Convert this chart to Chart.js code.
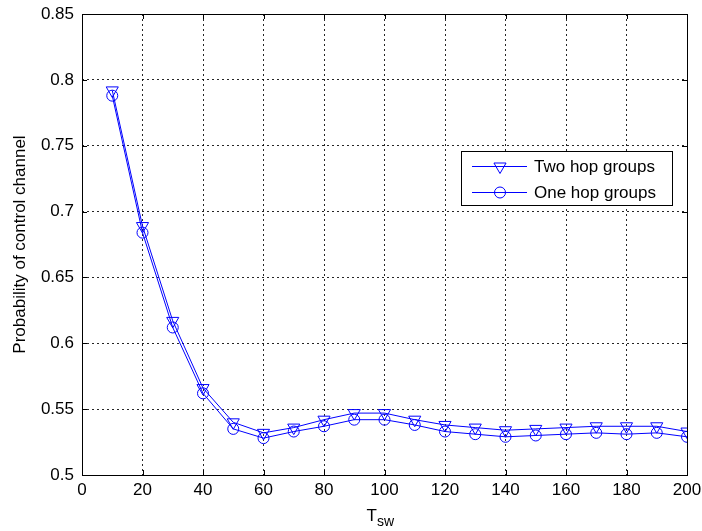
<!DOCTYPE html>
<html>
<head>
<meta charset="utf-8">
<script src="https://cdn.jsdelivr.net/npm/chart.js@4.4.1/dist/chart.umd.min.js"></script>
<style>
  html, body { margin: 0; padding: 0; background: #fff; }
  #wrap { width: 702px; height: 531px; }
</style>
</head>
<body>
<div id="wrap"><canvas id="chartCanvas" width="702" height="531"></canvas></div>
<script>
// data
const tswValues = [10, 20, 30, 40, 50, 60, 70, 80, 90, 100, 110, 120, 130, 140, 150, 160, 170, 180, 190, 200];
const twoHopGroups = [0.792, 0.689, 0.617, 0.566, 0.540, 0.532, 0.536, 0.542, 0.547, 0.547, 0.542, 0.538, 0.536, 0.534, 0.535, 0.536, 0.537, 0.537, 0.537, 0.533];
const oneHopGroups = [0.788, 0.684, 0.612, 0.562, 0.535, 0.528, 0.533, 0.537, 0.542, 0.542, 0.538, 0.533, 0.531, 0.529, 0.530, 0.531, 0.532, 0.531, 0.532, 0.529];
const xTicks = [0, 20, 40, 60, 80, 100, 120, 140, 160, 180, 200];
const yTicks = [0.5, 0.55, 0.6, 0.65, 0.7, 0.75, 0.8, 0.85];
const seriesNames = ['Two hop groups', 'One hop groups'];

const FONT = 'Liberation Sans, Arial, sans-serif';
const BLUE = 'rgb(0,0,255)';

function toPoints(ys) {
    return tswValues.map((x, i) => ({ x: x, y: ys[i] }));
}

function drawMarker(ctx, style, x, y) {
    ctx.beginPath();
    if (style === 'triangle') {
        const r = 7;
        ctx.moveTo(x - r * 0.866, y - r * 0.5);
        ctx.lineTo(x + r * 0.866, y - r * 0.5);
        ctx.lineTo(x, y + r);
        ctx.closePath();
    } else {
        ctx.arc(x, y, 5.5, 0, Math.PI * 2);
    }
    ctx.stroke();
}

// box, inward ticks, x title with subscript, legend
const matlabFrame = {
    id: 'matlabFrame',
    afterDraw(chart) {
        const ctx = chart.ctx;
        const a = chart.chartArea;
        const xs = chart.scales.x, ys = chart.scales.y;
        ctx.save();
        ctx.strokeStyle = '#000';
        ctx.lineWidth = 1;
        ctx.setLineDash([]);
        ctx.strokeRect(Math.round(a.left) + 0.5, Math.round(a.top) + 0.5, Math.round(a.right - a.left), Math.round(a.bottom - a.top));

        ctx.beginPath();
        xTicks.forEach(v => {
            const px = Math.round(xs.getPixelForValue(v)) + 0.5;
            ctx.moveTo(px, a.bottom); ctx.lineTo(px, a.bottom - 5);
            ctx.moveTo(px, a.top); ctx.lineTo(px, a.top + 5);
        });
        yTicks.forEach(v => {
            const py = Math.round(ys.getPixelForValue(v)) + 0.5;
            ctx.moveTo(a.left, py); ctx.lineTo(a.left + 5, py);
            ctx.moveTo(a.right, py); ctx.lineTo(a.right - 5, py);
        });
        ctx.stroke();

        // x axis title T_sw
        ctx.fillStyle = '#000';
        ctx.textBaseline = 'alphabetic';
        ctx.textAlign = 'left';
        const startX = (a.left + a.right) / 2 - 18;
        ctx.font = '17px ' + FONT;
        const tw = ctx.measureText('T').width;
        ctx.fillText('T', startX, 521);
        ctx.font = '14px ' + FONT;
        ctx.fillText('sw', startX + tw, 526);

        // legend
        const lx = 461, ly = 151, lw = 211, lh = 54;
        ctx.fillStyle = '#fff';
        ctx.fillRect(lx, ly, lw, lh);
        ctx.strokeStyle = '#000';
        ctx.strokeRect(lx + 0.5, ly + 0.5, lw, lh);
        const styles = ['triangle', 'circle'];
        seriesNames.forEach((name, i) => {
            const rowY = ly + 15 + i * 26;
            ctx.strokeStyle = BLUE;
            ctx.lineWidth = 1;
            ctx.beginPath();
            ctx.moveTo(472, rowY + 0.5);
            ctx.lineTo(527, rowY + 0.5);
            ctx.stroke();
            drawMarker(ctx, styles[i], 500, rowY + 0.5);
            ctx.fillStyle = '#000';
            ctx.font = '17px ' + FONT;
            ctx.textBaseline = 'middle';
            ctx.fillText(name, 534, rowY + 1);
        });
        ctx.restore();
    }
};

const ctx = document.getElementById('chartCanvas').getContext('2d');
const chartInstance = new Chart(ctx, {
    type: 'line',
    data: {
        datasets: [{
            label: seriesNames[0],
            data: toPoints(twoHopGroups),
            borderColor: BLUE,
            backgroundColor: 'rgba(0,0,0,0)',
            borderWidth: 1,
            pointStyle: 'triangle',
            rotation: 180,
            pointRadius: 7,
            pointBorderWidth: 1,
            pointBorderColor: BLUE,
            pointBackgroundColor: 'rgba(0,0,0,0)',
            tension: 0
        }, {
            label: seriesNames[1],
            data: toPoints(oneHopGroups),
            borderColor: BLUE,
            backgroundColor: 'rgba(0,0,0,0)',
            borderWidth: 1,
            pointStyle: 'circle',
            pointRadius: 5.5,
            pointBorderWidth: 1,
            pointBorderColor: BLUE,
            pointBackgroundColor: 'rgba(0,0,0,0)',
            tension: 0
        }]
    },
    options: {
        responsive: false,
        animation: false,
        layout: { padding: { top: 14, right: 15, left: 0, bottom: 0 } },
        plugins: {
            legend: { display: false },
            tooltip: { enabled: false }
        },
        scales: {
            x: {
                type: 'linear',
                min: 0,
                max: 200,
                afterBuildTicks: s => { s.ticks = xTicks.map(v => ({ value: v })); },
                grid: { color: 'rgba(0,0,0,0.85)', drawTicks: false, lineWidth: 1 },
                border: { display: false, dash: [2, 3] },
                ticks: { color: '#000', font: { family: FONT, size: 17 }, padding: 5, maxRotation: 0 },
                afterFit: s => { s.height = 56; s.paddingLeft = 0; s.paddingRight = 0; }
            },
            y: {
                min: 0.5,
                max: 0.85,
                afterBuildTicks: s => { s.ticks = yTicks.map(v => ({ value: v })); },
                grid: { color: 'rgba(0,0,0,0.85)', drawTicks: false, lineWidth: 1 },
                border: { display: false, dash: [2, 3] },
                ticks: {
                    color: '#000', font: { family: FONT, size: 17 }, padding: 8,
                    callback: v => String(+v.toFixed(2))
                },
                title: {
                    display: true,
                    text: 'Probability of control channel',
                    color: '#000',
                    font: { family: FONT, size: 17 },
                    padding: { top: 10, bottom: 0 }
                },
                afterFit: s => { s.width = 82; s.paddingTop = 0; s.paddingBottom = 0; }
            }
        }
    },
    plugins: [matlabFrame]
});
</script>
</body>
</html>
